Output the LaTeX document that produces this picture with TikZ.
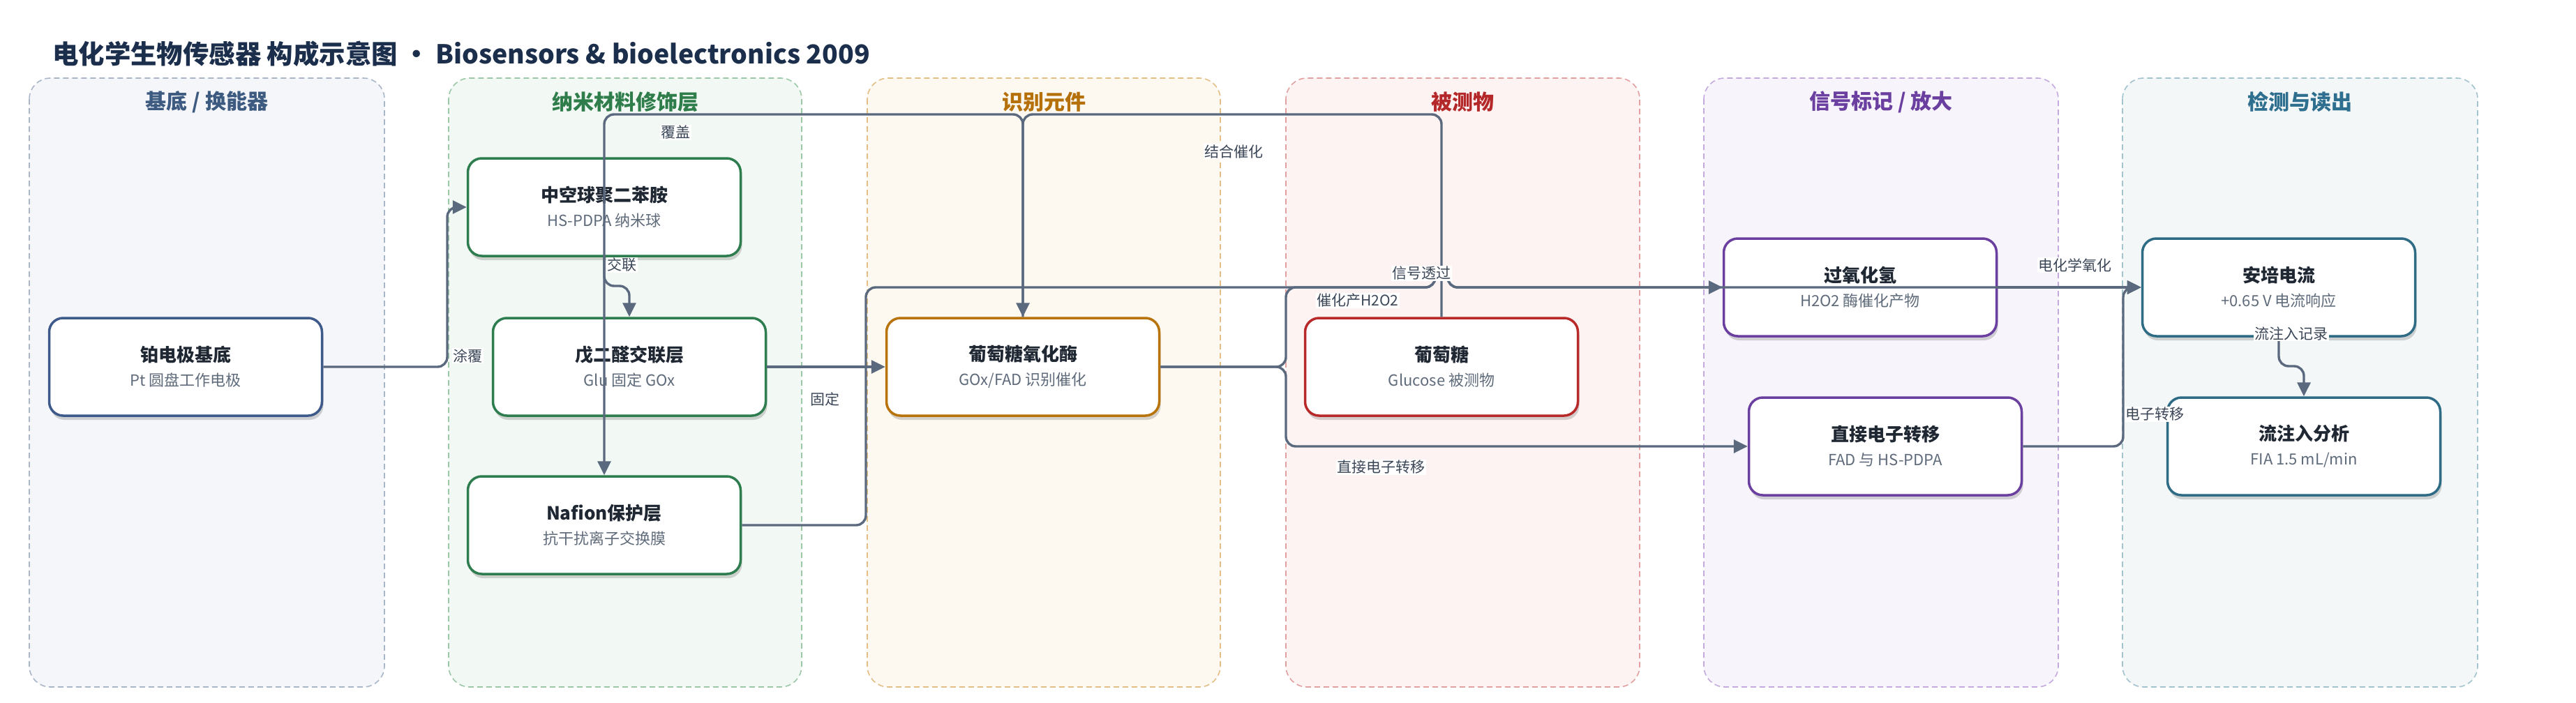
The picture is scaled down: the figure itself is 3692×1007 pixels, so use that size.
\documentclass[tikz,border=0pt]{standalone}
\usepackage{fontspec}
\setmainfont{Noto Sans CJK SC}
\usetikzlibrary{arrows.meta,shadows}
\definecolor{titlec}{HTML}{1B2E4B}
\definecolor{edgec}{HTML}{5A697E}
\definecolor{lblc}{HTML}{3B4657}
\definecolor{nodetit}{HTML}{1F2733}
\definecolor{nodesub}{HTML}{5F6B7A}
% lanes
\definecolor{fA}{HTML}{F5F6FA}\definecolor{bA}{HTML}{A9B6C8}\definecolor{hA}{HTML}{3D5A80}\definecolor{nA}{HTML}{3D5A8A}
\definecolor{fB}{HTML}{F2F8F3}\definecolor{bB}{HTML}{9CC8A8}\definecolor{hB}{HTML}{2E7D4A}\definecolor{nB}{HTML}{2E7D4F}
\definecolor{fC}{HTML}{FDF8F0}\definecolor{bC}{HTML}{E3BF85}\definecolor{hC}{HTML}{B5700A}\definecolor{nC}{HTML}{B8730A}
\definecolor{fD}{HTML}{FDF3F2}\definecolor{bD}{HTML}{E3A0A0}\definecolor{hD}{HTML}{B5282A}\definecolor{nD}{HTML}{B8292A}
\definecolor{fE}{HTML}{F7F4FB}\definecolor{bE}{HTML}{C4AADF}\definecolor{hE}{HTML}{6B3FA0}\definecolor{nE}{HTML}{6B3FA0}
\definecolor{fF}{HTML}{F3F7F8}\definecolor{bF}{HTML}{A3C3CF}\definecolor{hF}{HTML}{2E6E8E}\definecolor{nF}{HTML}{2E6B85}
\begin{document}
\begin{tikzpicture}[x=1pt,y=-1pt,
  lane/.style={draw=#1, dash pattern=on 8pt off 5pt, line width=1.6pt, rounded corners=30pt},
  lanehead/.style={font=\fontsize{30}{34}\selectfont\bfseries, text=#1},
  box/.style={draw=#1, fill=white, line width=3.5pt, rounded corners=20pt,
    minimum width=391pt, minimum height=140pt, align=center, inner sep=0pt,
    font=\fontsize{22}{35}\selectfont, text=nodesub,
    drop shadow={shadow xshift=2pt, shadow yshift=-6pt, opacity=0.16, fill=black}},
  conn/.style={draw=edgec, line width=3.4pt, rounded corners=14pt,
    -{Triangle[length=20pt,width=19pt]}},
  lbl/.style={fill=white, inner sep=1.5pt, font=\fontsize{21}{24}\selectfont, text=lblc}
]
\newcommand{\nt}[2]{{\fontsize{26}{35}\selectfont\bfseries\color{nodetit}#1}\\#2}
\useasboundingbox[fill=white] (0,0) rectangle (3692,1007);
% title
\node[anchor=west, font=\fontsize{37.4}{41}\selectfont\bfseries, text=titlec, inner sep=0pt] (title) at (75,77)
  {电化学生物传感器 构成示意图 • Biosensors \& bioelectronics 2009};
% lanes
\draw[lane=bA, fill=fA] (42,112) rectangle (551,985);
\draw[lane=bB, fill=fB] (643,112) rectangle (1149,985);
\draw[lane=bC, fill=fC] (1243,112) rectangle (1749,985);
\draw[lane=bD, fill=fD] (1843,112) rectangle (2350,985);
\draw[lane=bE, fill=fE] (2442,112) rectangle (2950,985);
\draw[lane=bF, fill=fF] (3042,112) rectangle (3551,985);
\node[lanehead=hA] (hA) at (296.5,146) {基底 / 换能器};
\node[lanehead=hB] (hB) at (896,146) {纳米材料修饰层};
\node[lanehead=hC] (hC) at (1496,146) {识别元件};
\node[lanehead=hD] (hD) at (2096.5,146) {被测物};
\node[lanehead=hE] (hE) at (2696,146) {信号标记 / 放大};
\node[lanehead=hF] (hF) at (3296.5,146) {检测与读出};
% nodes
\node[box=nA] (base) at (266,526) {\nt{铂电极基底}{Pt 圆盘工作电极}};
\node[box=nB] (pdpa) at (866,297) {\nt{中空球聚二苯胺}{HS-PDPA 纳米球}};
\node[box=nB] (glu) at (902,526) {\nt{戊二醛交联层}{Glu 固定 GOx}};
\node[box=nB] (naf) at (866,753) {\nt{Nafion保护层}{抗干扰离子交换膜}};
\node[box=nC] (gox) at (1466,526) {\nt{葡萄糖氧化酶}{GOx/FAD 识别催化}};
\node[box=nD] (glc) at (2066,526) {\nt{葡萄糖}{Glucose 被测物}};
\node[box=nE] (h2o2) at (2666,412) {\nt{过氧化氢}{H2O2 酶催化产物}};
\node[box=nE] (det) at (2702,640) {\nt{直接电子转移}{FAD 与 HS-PDPA}};
\node[box=nF] (amp) at (3266,412) {\nt{安培电流}{+0.65 V 电流响应}};
\node[box=nF] (fia) at (3302,640) {\nt{流注入分析}{FIA 1.5 mL/min}};
% connectors
\draw[conn] (base.east) -- (641,526) -- (641,297) -- (pdpa.west);
\draw[conn] (pdpa.south) -- (866,410) -- (902,410) -- (glu.north);
\draw[conn] (glu.east) -- (gox.west);
\draw[conn] (gox.north) -- (1466,164) -- (866,164) -- (naf.north);
\draw[conn] (glc.north) -- (2066,164) -- (1466,164) -- (gox.north);
\draw[conn] (naf.east) -- (1241,753) -- (1241,412) -- (2057,412)
  .. controls (2057,400) and (2075,400) .. (2075,412) -- (amp.west);
\draw[conn] (gox.east) -- (1843,526) -- (1843,412) -- (2057,412)
  .. controls (2057,400) and (2075,400) .. (2075,412) -- (h2o2.west);
\draw[conn] (h2o2.east) -- (amp.west);
\draw[conn] (gox.east) -- (1843,526) -- (1843,640) -- (det.west);
\draw[conn] (det.east) -- (3043,640) -- (3043,412) -- (amp.west);
\draw[conn] (amp.south) -- (3266,525) -- (3302,525) -- (fia.north);
% labels
\node[lbl] (l1) at (670,510) {涂覆};
\node[lbl] (l2) at (891,380) {交联};
\node[lbl] (l3) at (1182,572) {固定};
\node[lbl] (l4) at (968,190) {覆盖};
\node[lbl] (l5) at (1768,217) {结合催化};
\node[lbl] (l6) at (2037,392) {信号透过};
\node[lbl] (l7) at (1946,431) {催化产H2O2};
\node[lbl] (l8) at (2974,380) {电化学氧化};
\node[lbl] (l9) at (1979,670) {直接电子转移};
\node[lbl] (l10) at (3088,594) {电子转移};
\node[lbl] (l11) at (3284,478) {流注入记录};
\end{tikzpicture}
\end{document}
